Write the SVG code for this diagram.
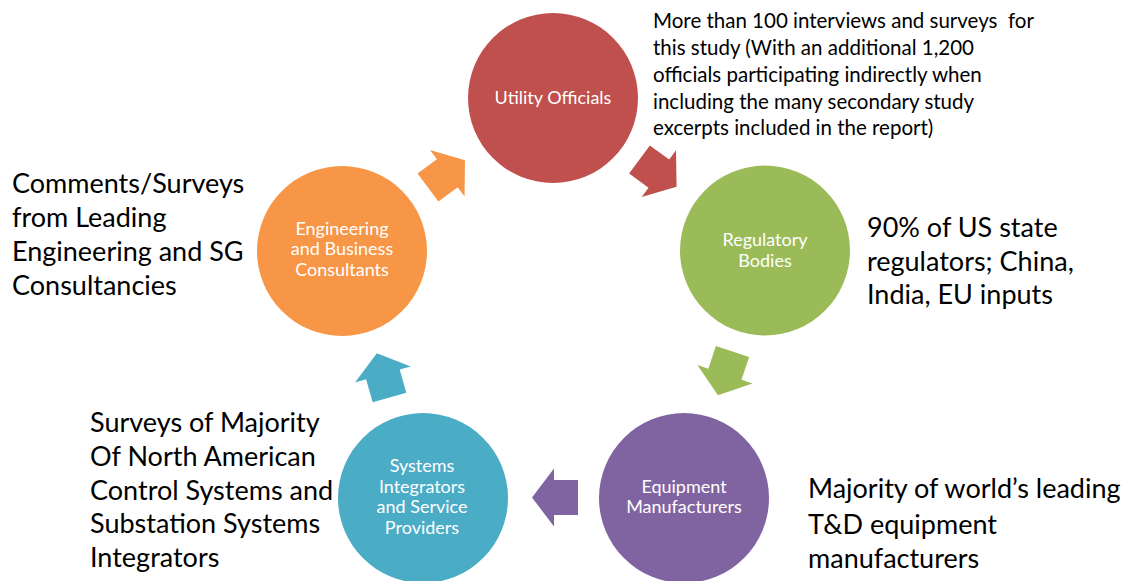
<svg xmlns="http://www.w3.org/2000/svg" width="1126" height="581" viewBox="0 0 1126 581">
  <defs>
    <!-- block arrow: tail at origin, tip at (46,0) -->
    <path id="blockArrow" d="M0,-17.5 H24 V-29 L46,0 L24,29 V17.5 H0 Z"/>
  </defs>
  <style>
    .lbl { font-family: Lato, "Open Sans", sans-serif; font-size: 18px; fill: #ffffff; text-anchor: middle; }
    .note { font-family: Lato, "Open Sans", sans-serif; font-size: 20.5px; fill: #000000; }
    .big { font-family: Lato, "Open Sans", sans-serif; font-size: 27px; fill: #000000; }
    .red { fill: #C0504D; }
    .green { fill: #9BBB59; }
    .purple { fill: #8064A2; }
    .teal { fill: #4BACC6; }
    .orange { fill: #F79646; }
  </style>
  <rect width="1126" height="581" fill="#ffffff"/>

  <!-- cycle connectors -->
  <g id="connectors">
    <use href="#blockArrow" class="orange" transform="translate(428,187.5) rotate(-36.5)"/>
    <use href="#blockArrow" class="red" transform="translate(639.5,159.5) rotate(36.3)"/>
    <use href="#blockArrow" class="green" transform="translate(732.5,351.5) rotate(108.4)"/>
    <use href="#blockArrow" class="purple" transform="translate(578,497.5) rotate(180)"/>
    <use href="#blockArrow" class="teal" transform="translate(389.5,397.5) rotate(-106)"/>
  </g>

  <g id="utility-officials">
    <circle class="red" cx="553" cy="98" r="85"/>
    <text class="lbl" x="553" y="104">Utility Officials</text>
  </g>

  <g id="regulatory-bodies">
    <circle class="green" cx="765" cy="250.5" r="85"/>
    <text class="lbl" x="765" y="246">Regulatory</text>
    <text class="lbl" x="765" y="267">Bodies</text>
  </g>

  <g id="equipment-manufacturers">
    <circle class="purple" cx="684" cy="498" r="85"/>
    <text class="lbl" x="684" y="493">Equipment</text>
    <text class="lbl" x="684" y="513">Manufacturers</text>
  </g>

  <g id="systems-integrators">
    <circle class="teal" cx="423" cy="498" r="85"/>
    <text class="lbl" x="422" y="472">Systems</text>
    <text class="lbl" x="422" y="493">Integrators</text>
    <text class="lbl" x="422" y="513">and Service</text>
    <text class="lbl" x="422" y="534">Providers</text>
  </g>

  <g id="engineering-consultants">
    <circle class="orange" cx="342" cy="251" r="85"/>
    <text class="lbl" x="342" y="235">Engineering</text>
    <text class="lbl" x="342" y="255">and Business</text>
    <text class="lbl" x="342" y="276">Consultants</text>
  </g>

  <!-- side notes -->
  <g id="note-utility" class="note">
    <text x="653" y="28" xml:space="preserve">More than 100 interviews and surveys  for</text>
    <text x="653" y="55">this study (With an additional 1,200</text>
    <text x="653" y="82">officials participating indirectly when</text>
    <text x="653" y="109">including the many secondary study</text>
    <text x="653" y="135">excerpts included in the report)</text>
  </g>

  <g id="note-regulatory" class="big">
    <text x="867" y="237">90% of US state</text>
    <text x="867" y="271">regulators; China,</text>
    <text x="867" y="304">India, EU inputs</text>
  </g>

  <g id="note-equipment" class="big">
    <text x="808" y="498">Majority of world’s leading</text>
    <text x="808" y="534">T&amp;D equipment</text>
    <text x="808" y="568">manufacturers</text>
  </g>

  <g id="note-integrators" class="big">
    <text x="90" y="432">Surveys of Majority</text>
    <text x="90" y="466">Of North American</text>
    <text x="90" y="500">Control Systems and</text>
    <text x="90" y="533">Substation Systems</text>
    <text x="90" y="567">Integrators</text>
  </g>

  <g id="note-engineering" class="big">
    <text x="12" y="193">Comments/Surveys</text>
    <text x="12" y="227">from Leading</text>
    <text x="12" y="261">Engineering and SG</text>
    <text x="12" y="295">Consultancies</text>
  </g>
</svg>
